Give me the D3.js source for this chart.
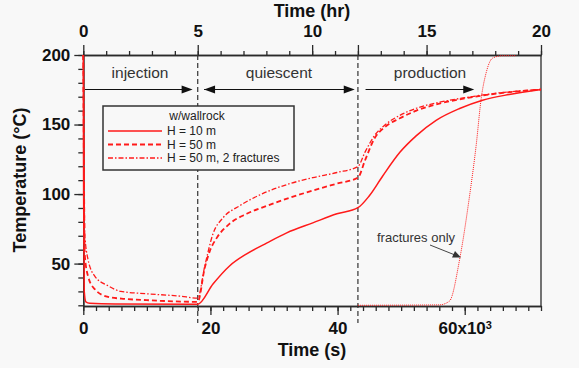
<!DOCTYPE html>
<html>
<head>
<meta charset="utf-8">
<script src="https://cdn.jsdelivr.net/npm/d3@7"></script>
<style>
body { margin: 0; background: #f8f8f8; }
text { font-family: "Liberation Sans", Arial, Helvetica, sans-serif; }
</style>
</head>
<body>
<svg id="chart"></svg>
<script>
// time in units of 10^3 s, temperature in degC
let tSolid = [0, 0.05, 0.15, 0.4, 1, 5, 18, 20.4, 23.0, 25.7, 28.9, 32.0, 36.1, 39.9, 43.2, 45.0, 47.1, 49.8, 52.4, 55.5, 59.2, 62.8, 67.0, 72]
let tempSolid = [200, 100, 30, 22.5, 21.5, 21, 20.8, 35.3, 48.3, 57, 64.9, 72.1, 79.3, 85.8, 90.2, 98.8, 113, 130, 142, 153, 161.5, 167.5, 171.6, 175.2]

let tDashed = [0, 0.1, 0.22, 0.74, 1.8, 3.9, 6, 10, 18, 19.1, 19.9, 21, 23, 25.7, 28.9, 32.5, 36.1, 39.9, 43.2, 44.3, 45.8, 47.4, 49.8, 52.4, 56, 60.3, 65.5, 72]
let tempDashed = [200, 120, 57, 41, 31.6, 26, 24.8, 23.7, 22.5, 46.8, 59, 68.5, 78.6, 85.8, 91.6, 97.4, 102.5, 107.5, 111.8, 124, 140, 148, 154.5, 160, 165, 169, 172.5, 175.2]

let tDashDot = [0, 0.1, 0.22, 0.74, 1.8, 3.9, 5.9, 10, 15.2, 18, 19.1, 20.4, 22, 24.6, 28.2, 32.5, 36.1, 39.9, 43.2, 44.3, 45.8, 47.4, 49.8, 52.4, 56, 60.3, 65.5, 72]
let tempDashDot = [200, 140, 72, 53, 41, 34, 30, 28.3, 26.6, 25.2, 48, 71.4, 83, 91.6, 100.3, 107.5, 111.8, 115.5, 119.8, 130, 142, 149.5, 156.6, 161.7, 166, 169.5, 172.8, 175.2]

let tFrac = [43.2, 56, 57.6, 59.2, 60.7, 61.8, 62.6, 63.4, 64.4, 66, 68.1]
let tempFrac = [20, 20.3, 23, 53, 96.7, 135, 169, 187.7, 197.8, 199.5, 199.5]

let phaseNames = ['injection', 'quiescent', 'production']
let phaseBounds = [0, 18, 43.2, 72]
let legendLabels = ['H = 10 m', 'H = 50 m', 'H = 50 m, 2 fractures']

let svgWidth = 579
let svgHeight = 368
let bg = '#f8f8f8'
let red = '#ff1a1a'
let ink = '#2a2a2a'

let svg = d3.select('#chart')
    .attr('width', svgWidth)
    .attr('height', svgHeight)

let x = d3.scaleLinear().domain([0, 72]).range([83.3, 541])
let xHr = d3.scaleLinear().domain([0, 20]).range([83.3, 541])
let y = d3.scaleLinear().domain([19.5, 200]).range([306, 55])

const styleAxis = (g, size) => {
    g.attr('font-family', null).attr('font-size', null)
    g.selectAll('path, line').attr('stroke', ink).attr('stroke-width', 1.3)
    g.selectAll('text').attr('font-size', size).attr('font-weight', 'bold').attr('fill', '#111')
}

// bottom axis (s)
let bottomMinor = svg.append('g')
    .attr('transform', `translate(0, ${y.range()[0]})`)
    .call(d3.axisBottom(x).tickValues(d3.range(0, 73, 2)).tickSize(5).tickSizeOuter(0).tickFormat(''))
styleAxis(bottomMinor, 17)
let bottomMajor = svg.append('g')
    .attr('transform', `translate(0, ${y.range()[0]})`)
    .call(d3.axisBottom(x).tickValues([0, 20, 40, 60]).tickSize(9).tickSizeOuter(0).tickPadding(7)
        .tickFormat(d => d === 60 ? '60x10' : d))
styleAxis(bottomMajor, 17)
bottomMajor.selectAll('text').filter(d => d === 60)
    .append('tspan').attr('dy', '-0.5em').attr('font-size', 11).text('3')

// top axis (hr)
let topMinor = svg.append('g')
    .attr('transform', `translate(0, ${y.range()[1]})`)
    .call(d3.axisTop(xHr).tickValues(d3.range(0, 21)).tickSize(4).tickSizeOuter(0).tickFormat(''))
styleAxis(topMinor, 17)
let topMajor = svg.append('g')
    .attr('transform', `translate(0, ${y.range()[1]})`)
    .call(d3.axisTop(xHr).tickValues([0, 5, 10, 12, 15, 20]).tickSize(10).tickSizeOuter(0).tickPadding(8)
        .tickFormat(d => d === 12 ? '' : d))
styleAxis(topMajor, 17)

// left axis
let leftMinor = svg.append('g')
    .attr('transform', `translate(${x.range()[0]}, 0)`)
    .call(d3.axisLeft(y).tickValues(d3.range(20, 201, 10)).tickSize(5).tickSizeOuter(0).tickFormat(''))
styleAxis(leftMinor, 17)
let leftMajor = svg.append('g')
    .attr('transform', `translate(${x.range()[0]}, 0)`)
    .call(d3.axisLeft(y).tickValues([50, 100, 150, 200]).tickSize(9).tickSizeOuter(0).tickPadding(4))
styleAxis(leftMajor, 17)

// right border
svg.append('line')
    .attr('x1', x.range()[1]).attr('x2', x.range()[1])
    .attr('y1', y.range()[0]).attr('y2', y.range()[1])
    .attr('stroke', ink).attr('stroke-width', 1.3)

// axis titles
svg.append('text')
    .attr('x', 312).attr('y', 17)
    .attr('text-anchor', 'middle').attr('font-size', 18).attr('font-weight', 'bold').attr('fill', '#111')
    .text('Time (hr)')
svg.append('text')
    .attr('x', 312).attr('y', 356)
    .attr('text-anchor', 'middle').attr('font-size', 18).attr('font-weight', 'bold').attr('fill', '#111')
    .text('Time (s)')
svg.append('text')
    .attr('transform', 'translate(26, 180) rotate(-90)')
    .attr('text-anchor', 'middle').attr('font-size', 18).attr('font-weight', 'bold').attr('fill', '#111')
    .text('Temperature (°C)')

// phase boundaries
svg.selectAll('.phaseLine')
    .data(phaseBounds.slice(1, 3))
    .enter()
    .append('line')
    .attr('x1', d => x(d)).attr('x2', d => x(d))
    .attr('y1', y.range()[1]).attr('y2', 323)
    .attr('stroke', '#333').attr('stroke-width', 1.2)
    .attr('stroke-dasharray', '5,3')

// phase labels and arrows
let arrowY = 89.5
const arrowHead = (px, dir) => {
    let L = 11, W = 4
    svg.append('path')
        .attr('d', `M${px},${arrowY}L${px - dir * L},${arrowY - W}L${px - dir * L},${arrowY + W}Z`)
        .attr('fill', '#111')
}
let arrowSpans = [[0.27, 17.2, false], [19.0, 42.7, true], [44.4, 61.5, false]]
arrowSpans.forEach((s, i) => {
    svg.append('line')
        .attr('x1', x(s[0])).attr('x2', x(s[1]) - 4)
        .attr('y1', arrowY).attr('y2', arrowY)
        .attr('stroke', '#111').attr('stroke-width', 1.2)
    arrowHead(x(s[1]), 1)
    if (s[2]) arrowHead(x(s[0]), -1)
})
let labelCenters = [140, 279, 430]
svg.selectAll('.phaseText')
    .data(phaseNames)
    .enter()
    .append('text')
    .attr('x', (d, i) => labelCenters[i])
    .attr('y', 78)
    .attr('text-anchor', 'middle')
    .attr('font-size', 15.5)
    .attr('fill', '#333')
    .text(d => d)

// curves
let line = d3.line()
    .x(d => x(d[0]))
    .y(d => y(d[1]))
    .curve(d3.curveMonotoneX)

let series = [
    {t: tSolid, v: tempSolid, dash: null, w: 1.5},
    {t: tDashed, v: tempDashed, dash: '5,3', w: 1.8},
    {t: tDashDot, v: tempDashDot, dash: '5,2,1.5,2', w: 1.3},
    {t: tFrac, v: tempFrac, dash: '1,1', w: 1}
]
series.forEach(s => {
    svg.append('path')
        .datum(d3.zip(s.t, s.v))
        .attr('d', line)
        .attr('fill', 'none')
        .attr('stroke', red)
        .attr('stroke-width', s.w)
        .attr('stroke-dasharray', s.dash)
})

// legend
let legend = svg.append('g')
legend.append('rect')
    .attr('x', 103).attr('y', 106).attr('width', 191).attr('height', 64)
    .attr('fill', bg).attr('stroke', '#333').attr('stroke-width', 1.5)
legend.append('text')
    .attr('x', 197).attr('y', 120)
    .attr('text-anchor', 'middle').attr('font-size', 12).attr('fill', '#222')
    .text('w/wallrock')
legendLabels.forEach((lab, i) => {
    let ly = 131 + i * 13.5
    legend.append('line')
        .attr('x1', 108).attr('x2', 162).attr('y1', ly).attr('y2', ly)
        .attr('stroke', red).attr('stroke-width', series[i].w)
        .attr('stroke-dasharray', series[i].dash)
    legend.append('text')
        .attr('x', 167).attr('y', ly + 4.3)
        .attr('font-size', 12).attr('fill', '#222')
        .text(lab)
})

// fractures only note
svg.append('text')
    .attr('x', 377).attr('y', 241.5)
    .attr('font-size', 13).attr('fill', '#333')
    .text('fractures only')
svg.append('line')
    .attr('x1', 430).attr('y1', 245).attr('x2', 455).attr('y2', 255)
    .attr('stroke', '#444').attr('stroke-width', 1)
svg.append('path')
    .attr('d', 'M461,257.5L452,257.5L455,251Z')
    .attr('fill', '#333')
</script>
</body>
</html>
